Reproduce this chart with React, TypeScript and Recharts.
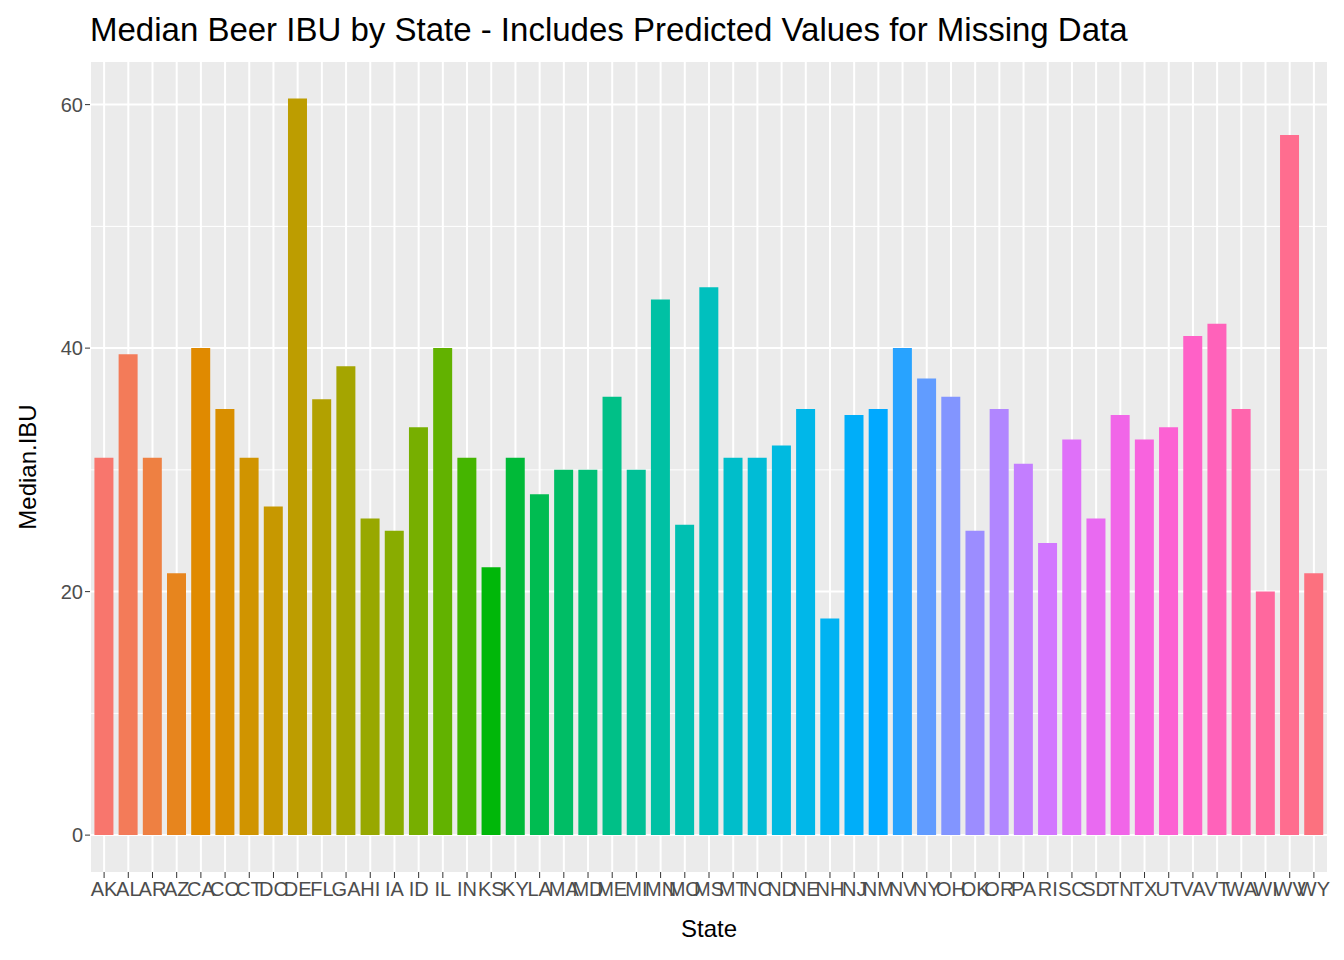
import React from "react";
import { BarChart, Bar, XAxis, YAxis, CartesianGrid, Cell } from "recharts";

const states = ["AK","AL","AR","AZ","CA","CO","CT","DC","DE","FL","GA","HI","IA","ID","IL","IN","KS","KY","LA","MA","MD","ME","MI","MN","MO","MS","MT","NC","ND","NE","NH","NJ","NM","NV","NY","OH","OK","OR","PA","RI","SC","SD","TN","TX","UT","VA","VT","WA","WI","WV","WY"];
const medianIBU = [31,39.5,31,21.5,40,35,31,27,60.5,35.8,38.5,26,25,33.5,40,31,22,31,28,30,30,36,30,44,25.5,45,31,31,32,35,17.8,34.5,35,40,37.5,36,25,35,30.5,24,32.5,26,34.5,32.5,33.5,41,42,35,20,57.5,21.5];
const yTicks = [0, 20, 40, 60];

function hcl(h: number, c: number, l: number) {
  const hr = (h * Math.PI) / 180;
  const L = l, U0 = c * Math.cos(hr), V0 = c * Math.sin(hr);
  const Xn = 95.047, Yn = 100, Zn = 108.883;
  const un = (4 * Xn) / (Xn + 15 * Yn + 3 * Zn), vn = (9 * Yn) / (Xn + 15 * Yn + 3 * Zn);
  const Y = L > 8 ? Yn * Math.pow((L + 16) / 116, 3) : (Yn * L) / 903.3;
  const u = U0 / (13 * L) + un, v = V0 / (13 * L) + vn;
  const X = (9 * Y * u) / (4 * v);
  const Z = (-X / 3) - 5 * Y + (3 * Y) / v;
  const x = X / 100, y = Y / 100, z = Z / 100;
  const lin = [3.2406 * x - 1.5372 * y - 0.4986 * z, -0.9689 * x + 1.8758 * y + 0.0415 * z, 0.0557 * x - 0.204 * y + 1.057 * z];
  return "#" + lin.map((t) => {
    const s = t <= 0.0031308 ? 12.92 * t : 1.055 * Math.pow(t, 1 / 2.4) - 0.055;
    const n = Math.max(0, Math.min(255, Math.round(s * 255)));
    return n.toString(16).padStart(2, "0");
  }).join("");
}

const data = states.map((s, i) => ({ state: s, ibu: medianIBU[i] }));
const colors = states.map((_, i) => hcl(15 + (360 * i) / states.length, 100, 65));
const font = "Arial, 'Liberation Sans', sans-serif";

export default function App() {
  return (
    <div style={{ position: "relative", width: 1336, height: 952, fontFamily: font }}>
      <div style={{ position: "absolute", left: 82, top: 3, fontSize: 33, color: "#000", whiteSpace: "nowrap" }}>
        Median Beer IBU by State - Includes Predicted Values for Missing Data
      </div>
      <div style={{ position: "absolute", left: 20 - 100, top: 459 - 14, width: 200, textAlign: "center", transform: "rotate(-90deg)", fontSize: 24, color: "#000" }}>
        Median.IBU
      </div>
      <div style={{ position: "absolute", left: 701 - 100, top: 907, width: 200, textAlign: "center", fontSize: 24, color: "#000" }}>
        State
      </div>
      <BarChart width={1336} height={952} data={data} margin={{ top: 54, right: 16, left: 32, bottom: 28 }} barCategoryGap="10%">
        <CartesianGrid fill="#EBEBEB" stroke="#FFFFFF" strokeWidth={1} vertical={false} horizontalValues={[10, 30, 50]} />
        <CartesianGrid stroke="#FFFFFF" strokeWidth={2} horizontalValues={yTicks} />
        <XAxis dataKey="state" interval={0} padding={{ left: 2, right: 2 }} height={60}
          axisLine={false} tickLine={{ stroke: "#333333" }} tickSize={6} tickMargin={4}
          tick={{ fontSize: 20, fill: "#4D4D4D", fontFamily: font }} />
        <YAxis width={50} domain={[-3.03, 63.5]} ticks={yTicks} allowDataOverflow
          axisLine={false} tickLine={{ stroke: "#333333" }} tickSize={5}
          tick={{ fontSize: 20, fill: "#4D4D4D", fontFamily: font }} />
        <Bar dataKey="ibu" isAnimationActive={false}>
          {data.map((d, i) => <Cell key={d.state} fill={colors[i]} />)}
        </Bar>
      </BarChart>
    </div>
  );
}
